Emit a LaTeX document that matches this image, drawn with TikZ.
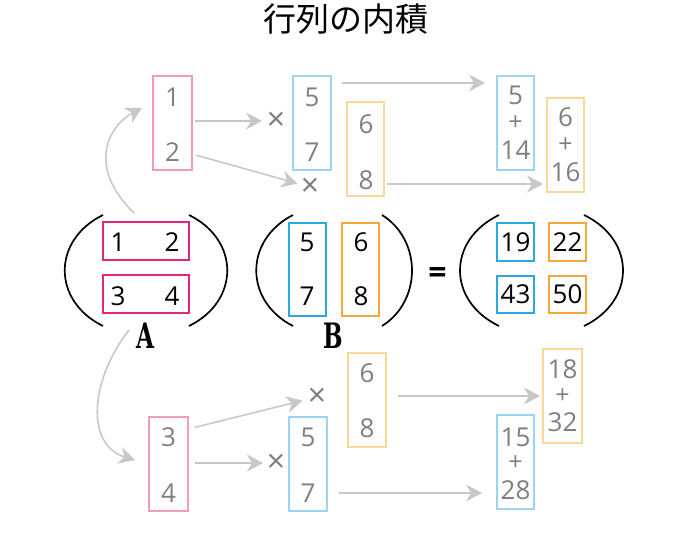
\documentclass[tikz,border=0pt]{standalone}
\usepackage{fontspec}
\setmainfont{Open Sans}
\newfontfamily\cjk{Noto Sans CJK JP}
\newfontfamily\slabfont{DejaVu Serif}
\usetikzlibrary{arrows.meta}
\definecolor{pinkS}{HTML}{E6267A}
\definecolor{pinkL}{HTML}{F598C0}
\definecolor{blueS}{HTML}{2AA9E0}
\definecolor{blueL}{HTML}{9DD3F5}
\definecolor{orangeS}{HTML}{F7A935}
\definecolor{orangeL}{HTML}{FBD89A}
\definecolor{arrgray}{HTML}{C8C8C8}
\definecolor{numgray}{HTML}{7F7F7F}
\begin{document}
\begin{tikzpicture}[x=1pt,y=-1pt,
  box/.style={draw, line width=2pt, inner sep=0pt, outer sep=0pt},
  tallbox/.style={box, minimum width=38pt, minimum height=94pt},
  rowbox/.style={box, minimum width=86pt, minimum height=38pt},
  colbox/.style={box, minimum width=37pt, minimum height=93pt},
  cellbox/.style={box, minimum width=37pt, minimum height=38pt},
  gnum/.style={text=numgray, font=\fontsize{26}{26}\selectfont, inner sep=0pt},
  bnum/.style={text=black, font=\fontsize{26}{26}\selectfont, inner sep=0pt},
  plussign/.style={text=numgray, font=\fontsize{25}{25}\selectfont, inner sep=0pt},
  timessign/.style={text=numgray, font=\fontsize{32}{32}\selectfont, inner sep=0pt},
  arr/.style={draw=arrgray, line width=1.6pt, -{Stealth[length=16pt,width=17pt,inset=5pt]}},
  paren/.style={draw=black, line width=1.7pt},
  matlabel/.style={font=\slabfont\bfseries\fontsize{35}{35}\selectfont, inner sep=0pt}
]
\useasboundingbox (0,0) rectangle (693,540);

% title
\node[font=\cjk\fontsize{33}{33}\selectfont, inner sep=0pt] (title) at (346,19) {行列の内積};

% ---------- middle: matrices ----------
\node[rowbox, draw=pinkS] (a1) at (146,241) {};
\node[rowbox, draw=pinkS] (a2) at (146,294) {};
\node[bnum] (a11) at (118,242) {1};
\node[bnum] (a12) at (172,242) {2};
\node[bnum] (a21) at (118,296) {3};
\node[bnum] (a22) at (172,296) {4};

\node[colbox, draw=blueS] (bb1) at (307.5,269.5) {};
\node[colbox, draw=orangeS] (bb2) at (360.5,269.5) {};
\node[bnum] (b11) at (307,242) {5};
\node[bnum] (b21) at (307,296) {7};
\node[bnum] (b12) at (361,242) {6};
\node[bnum] (b22) at (361,296) {8};

\node[cellbox, draw=blueS] (c11) at (515.5,242) {};
\node[cellbox, draw=orangeS] (c12) at (567.5,242) {};
\node[cellbox, draw=blueS, minimum height=37pt] (c21) at (515.5,294.5) {};
\node[cellbox, draw=orangeS, minimum height=37pt] (c22) at (567.5,294.5) {};
\node[bnum] at (c11) {19};
\node[bnum] at (c12) {22};
\node[bnum] at (c21) {43};
\node[bnum] at (c22) {50};

% parentheses
\draw[paren] (103,215) .. controls (52,240) and (52,301) .. (103,326);
\draw[paren] (189,215) .. controls (240,240) and (240,301) .. (189,326);
\draw[paren] (293,215) .. controls (244,240) and (244,301) .. (293,326);
\draw[paren] (382,215) .. controls (422,240) and (422,301) .. (382,326);
\draw[paren] (499,215) .. controls (447,240) and (447,301) .. (499,326);
\draw[paren] (584,215) .. controls (636,240) and (636,301) .. (584,326);

\node[matlabel] (labA) at (145,336) {\scalebox{0.66}[1]{A}};
\node[matlabel] (labB) at (333,336) {\scalebox{0.66}[1]{B}};
\node[font=\bfseries\fontsize{32}{32}\selectfont, inner sep=0pt] (eq) at (437.5,275) {=};

% ---------- top: first row ----------
\node[tallbox, draw=pinkL, minimum width=39pt] (p1) at (172.5,123) {};
\node[gnum] at (172.5,97.5) {1};
\node[gnum] at (172.5,152) {2};

\node[tallbox, draw=blueL] (b1) at (312,123) {};
\node[gnum] at (312,97) {5};
\node[gnum] at (312,152) {7};

\node[tallbox, draw=orangeL, minimum width=37pt] (o1) at (365.5,149) {};
\node[gnum] at (366,124) {6};
\node[gnum] at (366,180) {8};

\node[tallbox, draw=blueL, minimum width=37pt] (r1) at (515.5,123) {};
\node[gnum] at (515.5,95) {5};
\node[plussign] at (515.5,123) {+};
\node[gnum] at (515.5,150) {14};

\node[tallbox, draw=orangeL, minimum width=37pt] (r2) at (565.5,145) {};
\node[gnum] at (565.5,117) {6};
\node[plussign] at (565.5,145) {+};
\node[gnum] at (565.5,172) {16};

\node[timessign] (x1) at (276,121) {×};
\node[timessign] (x2) at (310,187) {×};

\draw[arr, shorten <=3pt, shorten >=14pt] (p1.east |- x1) -- (x1.center);
\draw[arr, shorten <=4pt, shorten >=13pt] ([yshift=-31pt]p1.east) -- (x2.center);
\coordinate (s3) at ([yshift=-7pt]b1.north east);
\draw[arr, shorten <=11pt, shorten >=12pt] (s3) -- (s3 -| r1.west);
\coordinate (s4) at ([yshift=-35pt]o1.east);
\draw[arr, shorten <=3pt, shorten >=4pt] (s4) -- (s4 -| r2.west);

% ---------- bottom: second row ----------
\node[tallbox, draw=pinkL, minimum width=39pt] (p2) at (168.5,464) {};
\node[gnum] at (168.5,437) {3};
\node[gnum] at (168.5,493) {4};

\node[tallbox, draw=blueL] (b2) at (308,464) {};
\node[gnum] at (308,437) {5};
\node[gnum] at (308,493) {7};

\node[tallbox, draw=orangeL] (o2) at (367,400) {};
\node[gnum] at (367,373) {6};
\node[gnum] at (367,428) {8};

\node[tallbox, draw=orangeL, minimum width=39pt] (r3) at (562.5,396) {};
\node[gnum] at (562.5,369) {18};
\node[plussign] at (562.5,396) {+};
\node[gnum] at (562.5,422) {32};

\node[tallbox, draw=blueL, minimum width=37pt] (r4) at (515.5,462) {};
\node[gnum] at (515.5,437) {15};
\node[plussign] at (515.5,463) {+};
\node[gnum] at (515.5,490) {28};

\node[timessign] (x3) at (317,397) {×};
\node[timessign] (x4) at (276,463) {×};

\draw[arr, shorten <=7pt, shorten >=15pt] ([yshift=35pt]p2.east) -- (x3.center);
\draw[arr, shorten <=7pt, shorten >=13pt] (p2.east |- x4) -- (x4.center);
\coordinate (s7) at ([yshift=4pt]o2.east);
\draw[arr, shorten <=12pt, shorten >=3pt] (s7) -- (s7 -| r3.west);
\coordinate (s8) at ([yshift=-29pt]b2.east);
\draw[arr, shorten <=12pt, shorten >=15pt] (s8) -- (s8 -| r4.west);

% ---------- curved arrows from A ----------
\coordinate (c1s) at ([xshift=-12pt,yshift=9pt]a1.north);
\coordinate (t1) at ([xshift=-11pt,yshift=15pt]p1.west);
\draw[arr] (c1s) .. controls (85,165) and (110,125) .. (t1);
\coordinate (c2s) at ([xshift=-17pt,yshift=-17pt]a2.south);
\coordinate (t2) at ([xshift=-14pt,yshift=4pt]p2.west);
\draw[arr] (c2s) .. controls (90,380) and (85,445) .. (t2);
\end{tikzpicture}
\end{document}
